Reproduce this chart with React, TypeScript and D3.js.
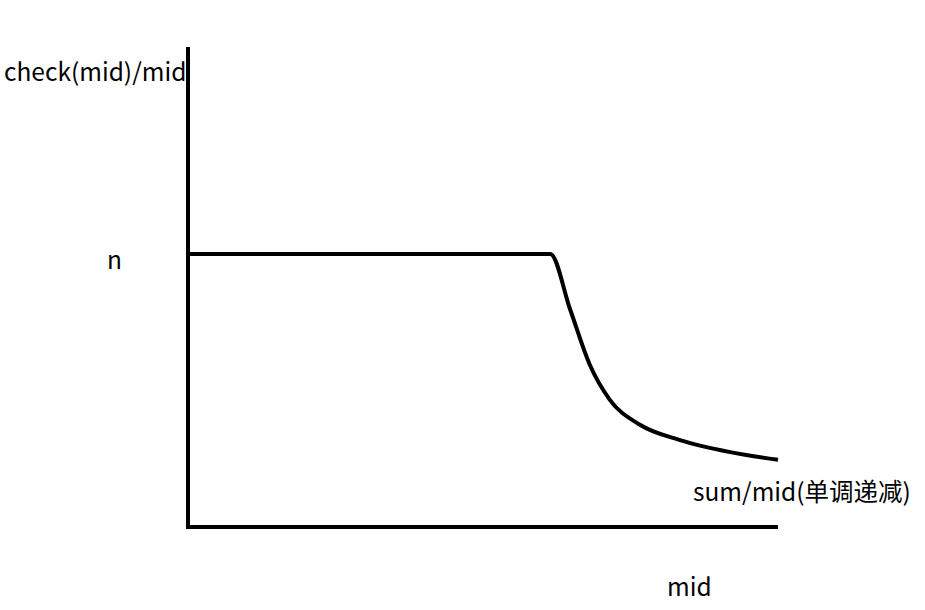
import React from 'react';
import * as d3 from 'd3';

// sketch units: x 0..10, y 0..10
const xValues = [0, 6.14, 6.48, 6.81, 7.15, 7.66, 8.34, 9.19, 10];
const yValues = [5.69, 5.69, 4.52, 3.38, 2.65, 2.13, 1.81, 1.56, 1.4];
const nLevel = 5.69;

const W = 925;
const H = 610;
const FONT = "'Noto Sans CJK SC', 'Noto Sans', sans-serif";

const App: React.FC = () => {
  const x = d3.scaleLinear().domain([0, 10]).range([188, 778]);
  const y = d3.scaleLinear().domain([0, 10]).range([527, 47]);

  const pts: [number, number][] = xValues.map((v, i) => [v, yValues[i]]);
  const line = d3
    .line<[number, number]>()
    .x(d => x(d[0]))
    .y(d => y(d[1]))
    .curve(d3.curveMonotoneX);

  return (
    <svg
      width={W}
      height={H}
      style={{ position: 'absolute', left: 0, top: 0, background: '#fff' }}
    >
      <line x1={x(0)} y1={y(10)} x2={x(0)} y2={y(0) + 2} stroke="#000" strokeWidth={4} />
      <line x1={x(0)} y1={y(0)} x2={x(10)} y2={y(0)} stroke="#000" strokeWidth={4} />
      <path d={line(pts) || ''} fill="none" stroke="#000" strokeWidth={4} strokeLinejoin="round" />

      <g fontFamily={FONT} fontSize={24.5} fill="#000">
        <text x={4} y={81}>check(mid)/mid</text>
        <text x={107} y={y(nLevel) + 15}>n</text>
        <text x={693} y={501}>sum/mid(单调递减)</text>
        <text x={667} y={596}>mid</text>
      </g>
    </svg>
  );
};

export default App;
